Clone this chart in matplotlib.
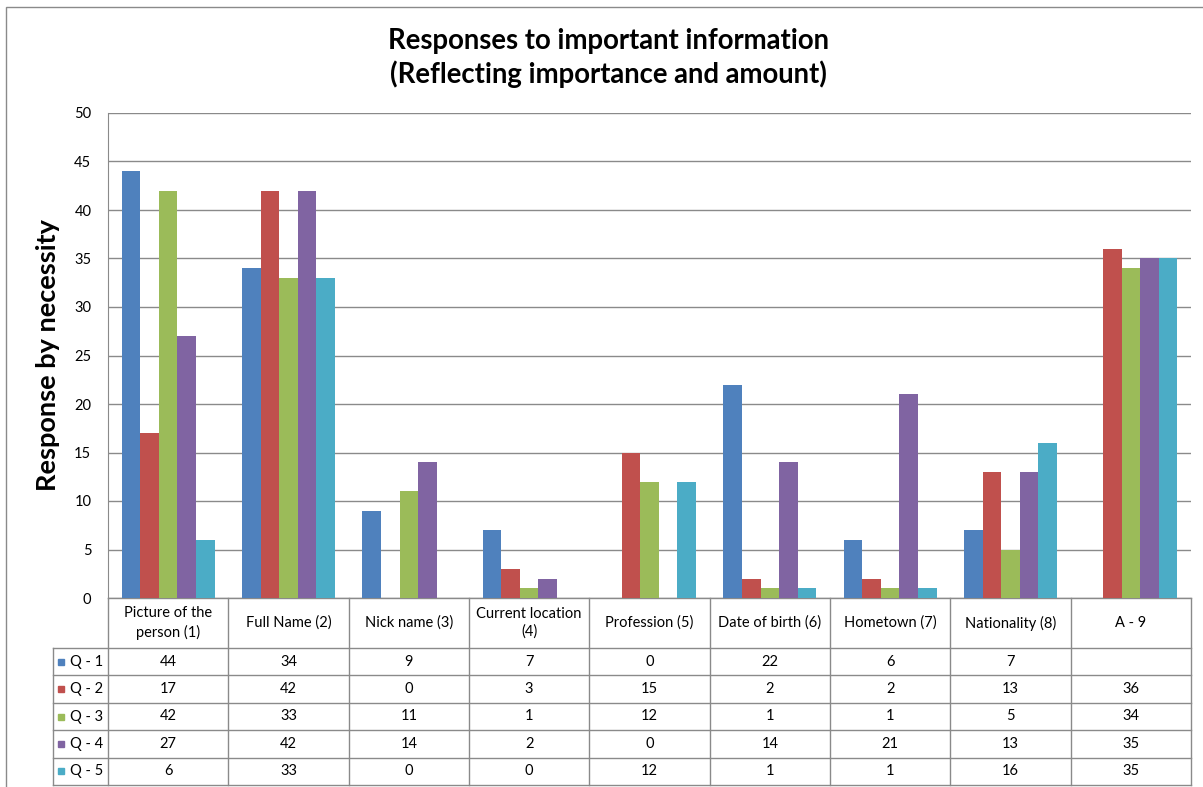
import numpy as np
import matplotlib
matplotlib.use("Agg")
import matplotlib.pyplot as plt
from matplotlib.patches import Rectangle

plt.rcParams['font.family'] = ['Lato', 'DejaVu Sans']

categories = ["Picture of the\nperson (1)", "Full Name (2)", "Nick name (3)",
              "Current location\n(4)", "Profession (5)", "Date of birth (6)",
              "Hometown (7)", "Nationality (8)", "A - 9"]
series_names = ["Q - 1", "Q - 2", "Q - 3", "Q - 4", "Q - 5"]
q1 = [44, 34, 9, 7, 0, 22, 6, 7, np.nan]
q2 = [17, 42, 0, 3, 15, 2, 2, 13, 36]
q3 = [42, 33, 11, 1, 12, 1, 1, 5, 34]
q4 = [27, 42, 14, 2, 0, 14, 21, 13, 35]
q5 = [6, 33, 0, 0, 12, 1, 1, 16, 35]
series = [q1, q2, q3, q4, q5]
colors = ["#4F81BD", "#C0504D", "#9BBB59", "#8064A2", "#4BACC6"]
yticks = [0, 5, 10, 15, 20, 25, 30, 35, 40, 45, 50]

W, H = 1203, 787
AW, AH = 1083, 485
fig = plt.figure(figsize=(W / 100, H / 100), dpi=100)
ax = fig.add_axes([108 / W, 1 - 598 / H, AW / W, AH / H])

grid_col = "#8a8a8a"
x = np.arange(len(categories))
bw = 0.155
for i, (vals, c) in enumerate(zip(series, colors)):
    v = np.nan_to_num(np.array(vals, dtype=float))
    ax.bar(x + (i - 2) * bw, v, width=bw, color=c, zorder=3)

ax.set_xlim(-0.5, len(categories) - 0.5)
ax.set_ylim(0, 50)
ax.set_yticks(yticks)
ax.set_xticks([])
ax.tick_params(axis='y', length=0, pad=12, labelsize=10.5)
ax.yaxis.grid(True, color=grid_col, linewidth=1, zorder=0)
for s in ["top", "right", "bottom"]:
    ax.spines[s].set_visible(False)
ax.spines["left"].set_color(grid_col)
ax.set_ylabel("Response by necessity", fontsize=19.5, fontweight="bold", labelpad=10)

fig.text(608 / W, 1 - 58 / H,
         "Responses to important information\n(Reflecting importance and amount)",
         fontsize=19.8, fontweight="bold", ha='center', va='center', linespacing=1.3)

# data table below the axes, drawn in pixel offsets from the axes corner
lab_w = 55
col_w = AW / len(categories)
head_h, row_h = 50, 27.4
nrow = len(series)
tbl_h = head_h + row_h * nrow


def ax_xy(px, py):
    return px / AW, -py / AH


def hline(py, x0, x1):
    (a, b), (c, d) = ax_xy(x0, py), ax_xy(x1, py)
    ax.plot([a, c], [b, d], transform=ax.transAxes, color=grid_col, lw=1, clip_on=False)


def vline(px, y0, y1):
    (a, b), (c, d) = ax_xy(px, y0), ax_xy(px, y1)
    ax.plot([a, c], [b, d], transform=ax.transAxes, color=grid_col, lw=1, clip_on=False)


hline(0, 0, AW)
for r in range(nrow + 1):
    hline(head_h + r * row_h, -lab_w, AW)
vline(-lab_w, head_h, tbl_h)
for j in range(len(categories) + 1):
    vline(j * col_w, 0, tbl_h)

for j, cat in enumerate(categories):
    tx, ty = ax_xy((j + 0.5) * col_w, head_h / 2)
    ax.text(tx, ty, cat, transform=ax.transAxes, fontsize=10.5, ha='center',
            va='center', linespacing=1.35)
for r, vals in enumerate(series):
    for j, v in enumerate(vals):
        if np.isnan(v):
            continue
        tx, ty = ax_xy((j + 0.5) * col_w, head_h + (r + 0.5) * row_h)
        ax.text(tx, ty, str(int(v)), transform=ax.transAxes, fontsize=10.5,
                ha='center', va='center')

# legend keys in the row label column
for r, (name, c) in enumerate(zip(series_names, colors)):
    kx, ky = ax_xy(-50, head_h + (r + 0.5) * row_h + 3)
    ax.add_patch(Rectangle((kx, ky), 6 / AW, 6 / AH,
                           transform=ax.transAxes, color=c, clip_on=False))
    tx, ty = ax_xy(-38, head_h + (r + 0.5) * row_h)
    ax.text(tx, ty, name, transform=ax.transAxes, fontsize=10.5,
            va='center', ha='left')

# outer chart border
fig.patches.append(Rectangle((6 / W, -0.1), 1.2, 1 - 7 / H + 0.1, transform=fig.transFigure,
                             fill=False, edgecolor=grid_col, linewidth=1))

fig.savefig("out.png", dpi=100)
